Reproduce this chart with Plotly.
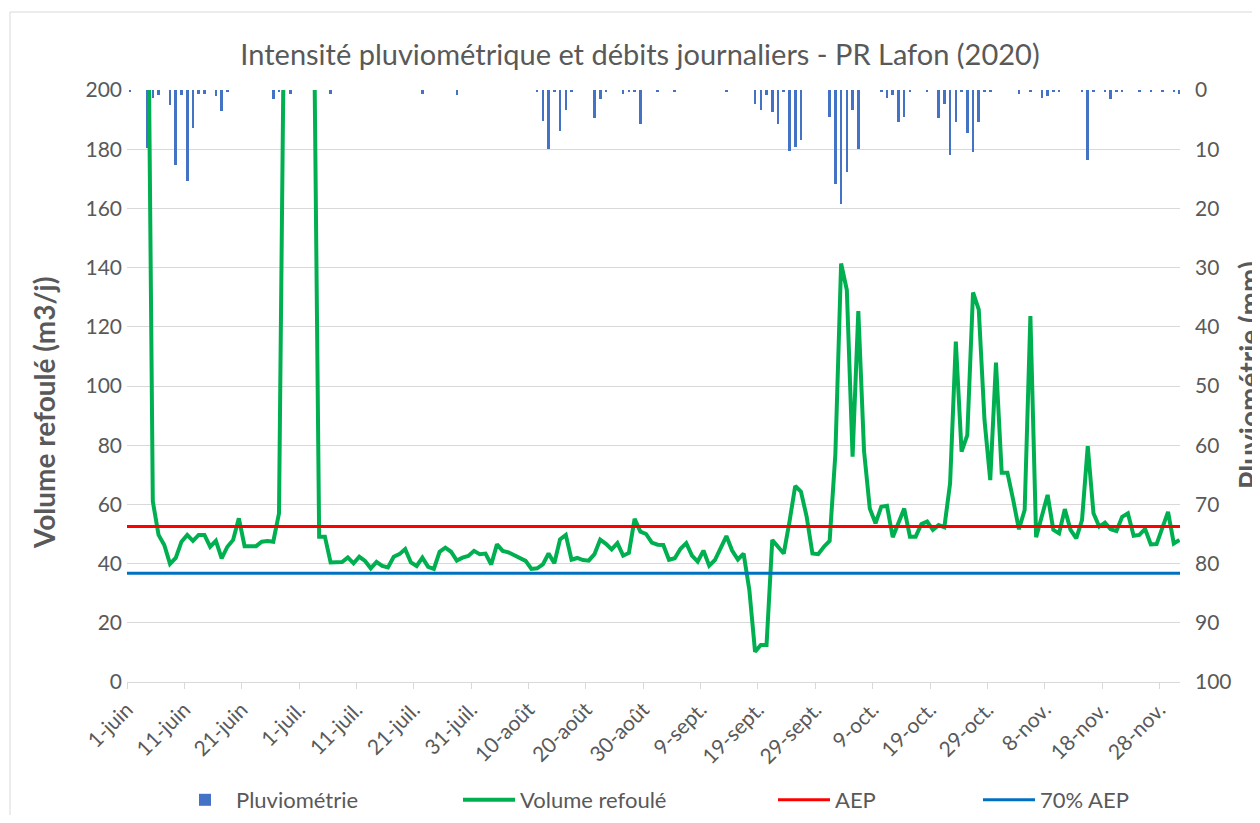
import plotly.graph_objects as go
import pandas as pd

# ---------------- data ----------------
start_date = "2020-06-01"
n_days = 184
dates = pd.date_range(start_date, periods=n_days, freq="D")

volume = [
    280, 275, 270, 275, 61.0, 49.7, 46.3, 39.9, 41.9, 47.4,
    49.7, 47.7, 49.7, 49.7, 45.7, 47.7, 41.8, 45.7, 48.0, 55.3,
    45.9, 45.9, 45.9, 47.4, 47.6, 47.4, 57.0, 250, 255, 260,
    255, 250, 245, 49.1, 49.1, 40.4, 40.4, 40.5, 42.1, 40.1,
    42.3, 40.9, 38.4, 40.6, 39.2, 38.7, 42.3, 43.2, 44.9, 40.4,
    39.2, 42.0, 38.9, 38.2, 44.0, 45.4, 44.0, 41.0, 42.0, 42.6,
    44.3, 43.2, 43.4, 39.7, 46.5, 44.3, 43.8, 42.9, 42.0, 40.9,
    38.2, 38.4, 39.7, 43.4, 40.1, 48.2, 49.7, 41.3, 41.9, 41.2,
    41.0, 43.2, 48.1, 46.7, 44.8, 46.9, 42.7, 43.6, 55.1, 50.8,
    50.0, 47.1, 46.4, 46.3, 41.3, 41.8, 45.0, 46.9, 42.7, 40.7,
    44.4, 39.3, 41.2, 45.2, 49.3, 44.4, 41.4, 43.4, 31.1, 10.2,
    12.5, 12.5, 48.0, 45.7, 43.4, 54.2, 66.2, 64.3, 55.8, 43.4,
    43.2, 45.7, 47.7, 77.0, 141.4, 132.4, 76.1, 125.3, 78.0, 58.6,
    53.6, 59.2, 59.5, 48.9, 53.8, 58.6, 49.1, 49.1, 53.4, 54.2,
    51.4, 53.0, 52.3, 67.1, 115.0, 77.8, 83.4, 131.6, 125.8, 88.5,
    68.2, 107.9, 70.7, 70.7, 61.5, 51.6, 58.1, 123.6, 48.9, 55.8,
    63.2, 51.4, 50.2, 58.4, 51.4, 48.5, 54.7, 79.7, 57.0, 52.5,
    53.8, 51.6, 51.0, 55.8, 57.0, 49.4, 49.7, 51.7, 46.5, 46.6,
    52.5, 57.5, 46.8, 48.0,
]

rain = [
    0.3, 0, 0, 9.8, 1.4, 0.8, 0, 2.5, 12.6, 0.8,
    15.4, 6.4, 0.7, 0.6, 0, 1.0, 3.6, 0.3, 0, 0,
    0, 0, 0, 0, 0, 1.6, 0.3, 0, 0.6, 0,
    0, 0, 0, 0, 0, 0.6, 0, 0, 0, 0,
    0, 0, 0, 0, 0, 0, 0, 0, 0, 0,
    0, 0.6, 0, 0, 0, 0, 0, 0.9, 0, 0,
    0, 0, 0, 0, 0, 0, 0, 0, 0, 0,
    0, 0.3, 5.2, 9.9, 0.2, 6.9, 3.4, 0.2, 0, 0,
    0, 4.8, 1.6, 0.4, 0, 0, 0.6, 0.2, 0.2, 5.8,
    0, 0, 0.2, 0, 0, 0.2, 0, 0, 0, 0,
    0, 0, 0, 0, 0.2, 0, 0, 0, 0, 2.4,
    3.3, 0.8, 3.7, 5.7, 0.3, 10.3, 9.6, 8.4, 0, 0,
    0, 0, 4.6, 15.8, 19.3, 13.8, 3.4, 10.0, 0, 0,
    0, 0.4, 1.4, 0.8, 5.4, 4.6, 0.2, 0, 0, 0.2,
    0, 4.8, 2.4, 11.0, 5.4, 0.4, 7.3, 10.5, 5.4, 0.4,
    0.2, 0, 0, 0, 0, 0.7, 0, 0.2, 0, 1.3,
    1.0, 0.2, 0.4, 0, 0, 0, 0.2, 11.8, 0.4, 0,
    0.2, 1.6, 0.2, 0.2, 0, 0, 0.2, 0, 0.2, 0,
    0.2, 0, 0.2, 0.6,
]

aep = 52.5
aep_70 = 36.75

tick_dates = [
    "2020-06-01", "2020-06-11", "2020-06-21", "2020-07-01", "2020-07-11",
    "2020-07-21", "2020-07-31", "2020-08-10", "2020-08-20", "2020-08-30",
    "2020-09-09", "2020-09-19", "2020-09-29", "2020-10-09", "2020-10-19",
    "2020-10-29", "2020-11-08", "2020-11-18", "2020-11-28",
]
tick_labels = [
    "1-juin", "11-juin", "21-juin", "1-juil.", "11-juil.", "21-juil.",
    "31-juil.", "10-août", "20-août", "30-août", "9-sept.", "19-sept.",
    "29-sept.", "9-oct.", "19-oct.", "29-oct.", "8-nov.", "18-nov.", "28-nov.",
]

x_range = ["2020-06-01 00:00", "2020-12-01 14:00"]

# ---------------- layout geometry (page pixels) ----------------
FONT = "Lato"
GREY = "#595959"
DAY_MS = 86400000
OFF = 8                      # default page (body) margin of the html page
W, H = 1260 - OFF, 823 - 2 * OFF
PLOT_L, PLOT_R, PLOT_T, PLOT_B = 127, 1180, 90, 682   # target plot area in the page
L = PLOT_L - OFF
T = PLOT_T - OFF
R = W - (PLOT_R - OFF)
B = H - (PLOT_B - OFF)
pw = PLOT_R - PLOT_L
ph = PLOT_B - PLOT_T
ITEM_W = 52


def px_x(px):            # page px -> paper x
    return (px - PLOT_L) / pw


def px_y(py):            # page px -> paper y
    return (PLOT_B - py) / ph


def cx(px):              # page px -> container x
    return (px - OFF) / W


def cy(py):              # page px -> container y
    return 1 - (py - OFF) / H


fig = go.Figure()

fig.add_trace(go.Bar(
    x=dates, y=rain, name="Pluviométrie", yaxis="y",
    marker=dict(color="#4472C4", line=dict(width=0)),
    width=0.45 * DAY_MS, xperiod=DAY_MS, xperiodalignment="middle",
    legend="legend",
))
fig.add_trace(go.Scatter(
    x=dates, y=volume, name="Volume refoulé", yaxis="y2", mode="lines",
    line=dict(color="#00B050", width=4),
    xperiod=DAY_MS, xperiodalignment="middle", legend="legend2",
))
fig.add_trace(go.Scatter(
    x=x_range, y=[aep, aep], name="AEP", yaxis="y2", mode="lines",
    line=dict(color="#FF0000", width=3), legend="legend3",
))
fig.add_trace(go.Scatter(
    x=x_range, y=[aep_70, aep_70], name="70% AEP", yaxis="y2", mode="lines",
    line=dict(color="#0070C0", width=3), legend="legend4",
))

legend_common = dict(
    orientation="h", yanchor="middle", xanchor="left",
    xref="container", yref="container", itemwidth=ITEM_W,
    font=dict(family=FONT, size=22, color=GREY),
    bgcolor="rgba(0,0,0,0)", borderwidth=0,
)
TXT_OFF = ITEM_W + 10

fig.update_layout(
    width=W, height=H,
    margin=dict(l=L, r=R, t=T, b=B, autoexpand=False),
    paper_bgcolor="white", plot_bgcolor="white",
    font=dict(family=FONT, color=GREY),
    bargap=0,
    title=dict(
        text="Intensité pluviométrique et débits journaliers - PR Lafon (2020)",
        x=cx(640), xref="container", xanchor="center",
        y=cy(55), yref="container", yanchor="middle",
        font=dict(family=FONT, size=29, color=GREY),
    ),
    xaxis=dict(
        type="date", range=x_range,
        tickvals=tick_dates, ticktext=tick_labels, tickangle=-45,
        tickfont=dict(family=FONT, size=21, color=GREY),
        showgrid=False, zeroline=False,
        showline=True, linecolor="#D9D9D9", linewidth=1,
        ticks="outside", ticklen=6, tickcolor="#D9D9D9",
    ),
    yaxis=dict(
        range=[100, 0], dtick=10, side="right",
        showgrid=True, gridcolor="#D9D9D9", gridwidth=1,
        zeroline=False, showline=False, ticks="",
        tickfont=dict(family=FONT, size=21, color=GREY),
        ticklabelstandoff=14,
    ),
    yaxis2=dict(
        range=[0, 200], dtick=20, side="left", overlaying="y",
        showgrid=False, zeroline=False, showline=False, ticks="",
        tickfont=dict(family=FONT, size=21, color=GREY),
        ticklabelstandoff=4,
    ),
    legend=dict(x=cx(236 - TXT_OFF), y=cy(800), **legend_common),
    legend2=dict(x=cx(520 - TXT_OFF), y=cy(800), **legend_common),
    legend3=dict(x=cx(835 - TXT_OFF), y=cy(800), **legend_common),
    legend4=dict(x=cx(1040 - TXT_OFF), y=cy(800), **legend_common),
    showlegend=True,
)

fig.add_annotation(
    text="<b>Volume refoulé (m3/j)</b>", textangle=-90,
    xref="paper", yref="paper", x=px_x(44), y=px_y(413),
    xanchor="center", yanchor="middle", showarrow=False,
    font=dict(family=FONT, size=28, color=GREY),
)
fig.add_annotation(
    text="<b>Pluviométrie (mm)</b>", textangle=-90,
    xref="paper", yref="paper", x=px_x(1249), y=px_y(375),
    xanchor="center", yanchor="middle", showarrow=False,
    font=dict(family=FONT, size=28, color=GREY),
)

fig.add_shape(
    type="rect", xref="paper", yref="paper",
    x0=px_x(10), x1=px_x(1290), y0=px_y(850), y1=px_y(12),
    line=dict(color="#D9D9D9", width=1), fillcolor="rgba(0,0,0,0)", layer="below",
)

fig.write_html("out.html")
